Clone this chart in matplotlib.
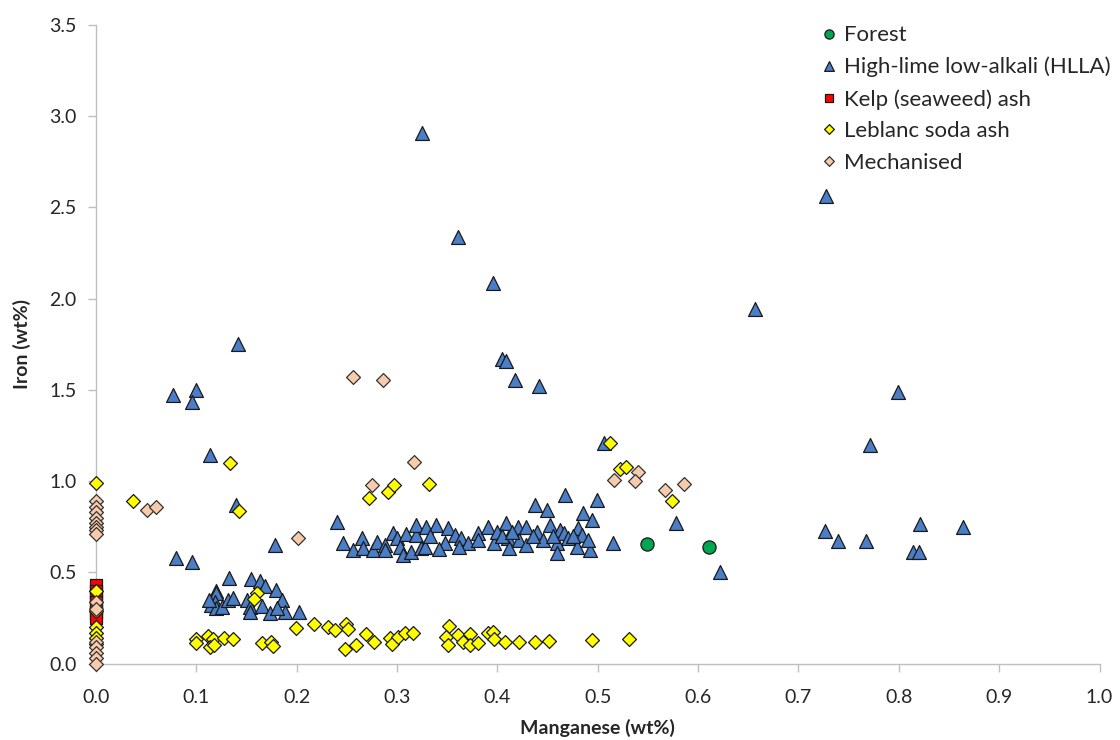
import matplotlib
matplotlib.use("Agg")
import matplotlib.pyplot as plt

plt.rcParams['font.family'] = ['Lato', 'DejaVu Sans']

# ---------------- data ----------------
forest_x = [0.5495, 0.611]
forest_y = [0.654, 0.641]

hlla_x = [0.325, 0.361, 0.396, 0.405, 0.409, 0.418, 0.441, 0.727, 0.657, 0.799,
          0.771, 0.506, 0.142, 0.077, 0.100, 0.096, 0.1135, 0.140,
          0.578, 0.515, 0.6215, 0.726, 0.739, 0.767, 0.814, 0.820, 0.821, 0.864,
          0.240, 0.246, 0.256, 0.265, 0.266, 0.276, 0.280, 0.288, 0.288, 0.296,
          0.300, 0.303, 0.306, 0.309, 0.314, 0.319, 0.319, 0.324, 0.328, 0.329,
          0.339, 0.348, 0.351, 0.358, 0.364, 0.371, 0.381, 0.381, 0.391, 0.397,
          0.409, 0.411, 0.412, 0.421, 0.422, 0.429, 0.429, 0.437, 0.439, 0.4455,
          0.449, 0.452, 0.459, 0.459, 0.462, 0.466, 0.467, 0.4705, 0.479, 0.480,
          0.484, 0.485, 0.492, 0.494, 0.4995, 0.400, 0.405, 0.415, 0.435, 0.455,
          0.475, 0.490, 0.333, 0.342, 0.362,
          0.080, 0.096, 0.133, 0.120, 0.120, 0.154, 0.163, 0.168, 0.179, 0.185,
          0.188, 0.2025, 0.1185, 0.115, 0.120, 0.126, 0.132, 0.137, 0.150, 0.153,
          0.153, 0.165, 0.173, 0.180, 0.178, 0.113]
hlla_y = [2.905, 2.340, 2.084, 1.667, 1.660, 1.554, 1.523, 2.563, 1.943, 1.490,
          1.198, 1.211, 1.750, 1.474, 1.500, 1.435, 1.143, 0.870,
          0.769, 0.660, 0.501, 0.727, 0.672, 0.672, 0.610, 0.613, 0.766, 0.748,
          0.778, 0.660, 0.623, 0.687, 0.632, 0.623, 0.669, 0.651, 0.623, 0.715,
          0.687, 0.641, 0.596, 0.710, 0.614, 0.705, 0.760, 0.632, 0.641, 0.751,
          0.760, 0.660, 0.745, 0.705, 0.687, 0.660, 0.715, 0.680, 0.751, 0.660,
          0.769, 0.687, 0.632, 0.751, 0.678, 0.751, 0.651, 0.870, 0.723, 0.678,
          0.842, 0.760, 0.660, 0.605, 0.733, 0.716, 0.924, 0.687, 0.641, 0.742,
          0.705, 0.824, 0.623, 0.788, 0.897, 0.720, 0.700, 0.720, 0.700, 0.700,
          0.700, 0.680, 0.700, 0.630, 0.640,
          0.578, 0.556, 0.468, 0.400, 0.389, 0.463, 0.452, 0.424, 0.402, 0.350,
          0.285, 0.285, 0.340, 0.322, 0.304, 0.313, 0.350, 0.359, 0.350, 0.313,
          0.285, 0.317, 0.277, 0.304, 0.652, 0.350]

kelp_x = [0.0, 0.0, 0.0, 0.0, 0.0, 0.0, 0.0]
kelp_y = [0.43, 0.40, 0.37, 0.34, 0.31, 0.28, 0.25]

leblanc_x = [0.0, 0.0, 0.0, 0.0, 0.0, 0.0, 0.0,
             0.0365, 0.134, 0.143, 0.272, 0.291, 0.297, 0.332, 0.512, 0.5226, 0.5286,
             0.574, 0.160, 0.157,
             0.0996, 0.100, 0.112, 0.117, 0.1135, 0.1175, 0.128, 0.137, 0.165, 0.174,
             0.1766, 0.199, 0.2175, 0.231, 0.238, 0.249, 0.2515, 0.248, 0.2595, 0.269,
             0.277, 0.293, 0.2945, 0.301, 0.308, 0.316, 0.352, 0.349, 0.351, 0.361,
             0.366, 0.3725, 0.3725, 0.381, 0.391, 0.396, 0.397, 0.408, 0.422, 0.437,
             0.451, 0.494, 0.531]
leblanc_y = [0.99, 0.40, 0.29, 0.20, 0.17, 0.14, 0.11,
             0.893, 1.098, 0.838, 0.906, 0.943, 0.979, 0.985, 1.207, 1.065, 1.080,
             0.893, 0.386, 0.353,
             0.134, 0.112, 0.152, 0.134, 0.090, 0.103, 0.143, 0.136, 0.116, 0.121,
             0.097, 0.198, 0.218, 0.200, 0.185, 0.216, 0.189, 0.079, 0.103, 0.162,
             0.121, 0.140, 0.108, 0.145, 0.167, 0.167, 0.207, 0.148, 0.103, 0.158,
             0.121, 0.163, 0.103, 0.112, 0.167, 0.176, 0.134, 0.121, 0.121, 0.121,
             0.123, 0.130, 0.134]

mech_x = [0.0] * 15 + [0.0505, 0.060, 0.2015, 0.2755, 0.317, 0.256, 0.286,
                       0.516, 0.540, 0.5375, 0.5674, 0.5857]
mech_y = [0.89, 0.86, 0.83, 0.80, 0.77, 0.75, 0.73, 0.71, 0.34, 0.30, 0.12, 0.09,
          0.06, 0.03, 0.0,
          0.842, 0.857, 0.689, 0.979, 1.107, 1.572, 1.554,
          1.006, 1.049, 1.003, 0.952, 0.983]

series_names = ["Forest", "High-lime low-alkali (HLLA)", "Kelp (seaweed) ash",
                "Leblanc soda ash", "Mechanised"]
x_ticks = [0.0, 0.1, 0.2, 0.3, 0.4, 0.5, 0.6, 0.7, 0.8, 0.9, 1.0]
y_ticks = [0.0, 0.5, 1.0, 1.5, 2.0, 2.5, 3.0, 3.5]

# ---------------- plot ----------------
fig = plt.figure(figsize=(11.2, 7.4), dpi=100)
ax = fig.add_axes([0.0857, 0.103, 0.896, 0.8636])

ec = '#1a1a1a'
lw = 0.9
ax.scatter(forest_x, forest_y, s=90, marker='o', c='#00A650', edgecolors=ec,
           linewidths=lw, label=series_names[0], clip_on=False, zorder=3)
ax.scatter(hlla_x, hlla_y, s=100, marker='^', c='#4A7EC6', edgecolors=ec,
           linewidths=lw, label=series_names[1], clip_on=False, zorder=3)
ax.scatter(kelp_x, kelp_y, s=80, marker='s', c='#FF0000', edgecolors=ec,
           linewidths=lw, label=series_names[2], clip_on=False, zorder=3)
ax.scatter(leblanc_x, leblanc_y, s=50, marker='D', c='#FFFF00', edgecolors=ec,
           linewidths=lw, label=series_names[3], clip_on=False, zorder=3)
ax.scatter(mech_x, mech_y, s=50, marker='D', c='#F8CBAD', edgecolors='#333333',
           linewidths=lw, label=series_names[4], clip_on=False, zorder=3)

ax.set_xlim(0, 1.0)
ax.set_ylim(0, 3.5)
ax.set_xticks(x_ticks)
ax.set_yticks(y_ticks)
ax.set_xticklabels([f"{v:.1f}" for v in x_ticks])
ax.set_yticklabels([f"{v:.1f}" for v in y_ticks])

for s in ['top', 'right']:
    ax.spines[s].set_visible(False)
for s in ['left', 'bottom']:
    ax.spines[s].set_color('#BFBFBF')
    ax.spines[s].set_linewidth(1.0)
ax.tick_params(axis='both', direction='out', length=6, width=1.0,
               color='#BFBFBF', labelcolor='#262626', labelsize=14)
ax.tick_params(axis='x', pad=12)
ax.tick_params(axis='y', pad=8)

ax.set_xlabel("Manganese (wt%)", fontsize=14, fontweight='bold', color='#262626',
              va='top')
ax.set_ylabel("Iron (wt%)", fontsize=14, fontweight='bold', color='#262626')
ax.xaxis.set_label_coords(0.5, -0.087)
ax.yaxis.set_label_coords(-0.065, 0.5)

leg = ax.legend(loc='upper left', bbox_to_anchor=(0.708, 1.013), frameon=False,
                fontsize=16, markerscale=0.7, handletextpad=0.1,
                labelspacing=0.52, borderaxespad=0, handlelength=1.2,
                scatteryoffsets=[0.5])
for t in leg.get_texts():
    t.set_color('#262626')

fig.savefig("out.png", dpi=100)
